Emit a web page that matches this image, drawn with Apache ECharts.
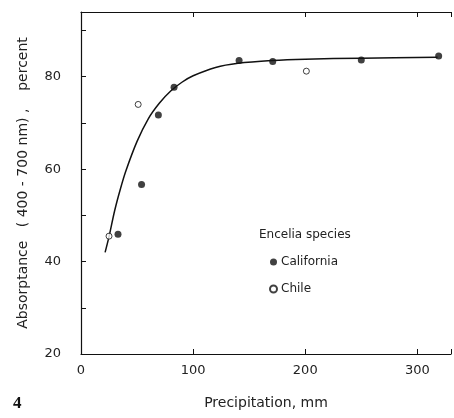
<!DOCTYPE html>
<html><head><meta charset="utf-8">
<script src="https://cdn.jsdelivr.net/npm/echarts@6/dist/echarts.min.js"></script>
<style>html,body{margin:0;padding:0;background:#fff}#c{width:454px;height:418px}</style>
</head><body><div id="c"></div>
<script>
// Data
const californiaX = [33, 54, 69, 83, 141, 171, 250, 319];
const californiaY = [45.9, 56.7, 71.7, 77.7, 83.5, 83.3, 83.6, 84.5];
const chileX = [25, 51, 201];
const chileY = [45.5, 74.0, 81.2];
const curveX = [21.5, 25, 30, 35, 40, 50, 60, 70, 80, 90, 100, 120, 140, 170, 200, 250, 318];
const curveY = [42, 45.4, 51.0, 55.6, 59.6, 66.0, 70.9, 74.3, 76.9, 78.8, 80.2, 82.0, 82.9, 83.5, 83.8, 84.0, 84.2];
const yTickLabels = [20, 40, 60, 80];
const xTickLabels = [0, 100, 200, 300];

const zip = (a, b) => a.map((v, i) => [v, b[i]]);
const font = 'DejaVu Sans';
const ink = '#222';

const chart = echarts.init(document.getElementById('c'), null, {renderer: 'canvas'});
chart.setOption({
  animation: false,
  backgroundColor: '#fff',
  textStyle: {fontFamily: font, color: ink},
  grid: {left: 81, right: 1, top: 12, bottom: 64},
  title: [
    {text: 'Encelia species', left: 254, top: 224, textStyle: {fontFamily: font, fontSize: 12, fontWeight: 'normal', color: ink}},
    {text: '4', left: 8, top: 390, textStyle: {fontFamily: 'Liberation Serif', fontSize: 17, fontWeight: 'bold', color: '#111'}}
  ],
  legend: {
    orient: 'vertical', left: 264, top: 251, itemGap: 15, itemWidth: 7, itemHeight: 7,
    data: ['California', 'Chile'],
    textStyle: {fontFamily: font, fontSize: 12, color: ink, padding: [0, 0, 0, -1]}
  },
  xAxis: [
    {type: 'value', min: 0, max: 330, interval: 100, position: 'bottom',
     name: 'Precipitation, mm', nameLocation: 'middle', nameGap: 42,
     nameTextStyle: {fontFamily: font, fontSize: 14, color: ink},
     axisLine: {lineStyle: {color: '#111', width: 1.2}},
     axisTick: {inside: true, length: 5, lineStyle: {color: '#111'}},
     axisLabel: {margin: 10, fontSize: 13, color: ink, fontFamily: font,
       formatter: v => xTickLabels.includes(v) ? String(v) : ''},
     splitLine: {show: false}},
    {type: 'value', min: 0, max: 330, interval: 100, position: 'top',
     axisLine: {lineStyle: {color: '#111', width: 1.2}},
     axisTick: {inside: true, length: 5, lineStyle: {color: '#111'}},
     axisLabel: {show: false}, splitLine: {show: false}}
  ],
  yAxis: {
    type: 'value', min: 20, max: 94, interval: 10,
    name: 'Absorptance   ( 400 - 700 nm) ,    percent', nameLocation: 'middle', nameGap: 51,
    nameTextStyle: {fontFamily: font, fontSize: 14, color: ink},
    axisLine: {show: true, lineStyle: {color: '#111', width: 1.2}},
    axisTick: {show: true, inside: true, length: 5, lineStyle: {color: '#111'}},
    axisLabel: {margin: 20, fontSize: 13, color: ink, fontFamily: font,
      formatter: v => yTickLabels.includes(v) ? String(v) : ''},
    splitLine: {show: false}
  },
  series: [
    {name: 'fit', type: 'line', data: zip(curveX, curveY), smooth: 0.3, showSymbol: false,
     symbol: 'none', lineStyle: {color: '#111', width: 1.5}, z: 1, silent: true},
    {name: 'California', type: 'scatter', data: zip(californiaX, californiaY), symbol: 'circle', symbolSize: 7,
     itemStyle: {color: '#111', borderColor: '#111', borderWidth: 0}, z: 3},
    {name: 'Chile', type: 'scatter', data: zip(chileX, chileY), symbol: 'circle', symbolSize: 6,
     itemStyle: {color: '#fff', borderColor: '#111', borderWidth: 1}, z: 3}
  ]
});
</script></body></html>
